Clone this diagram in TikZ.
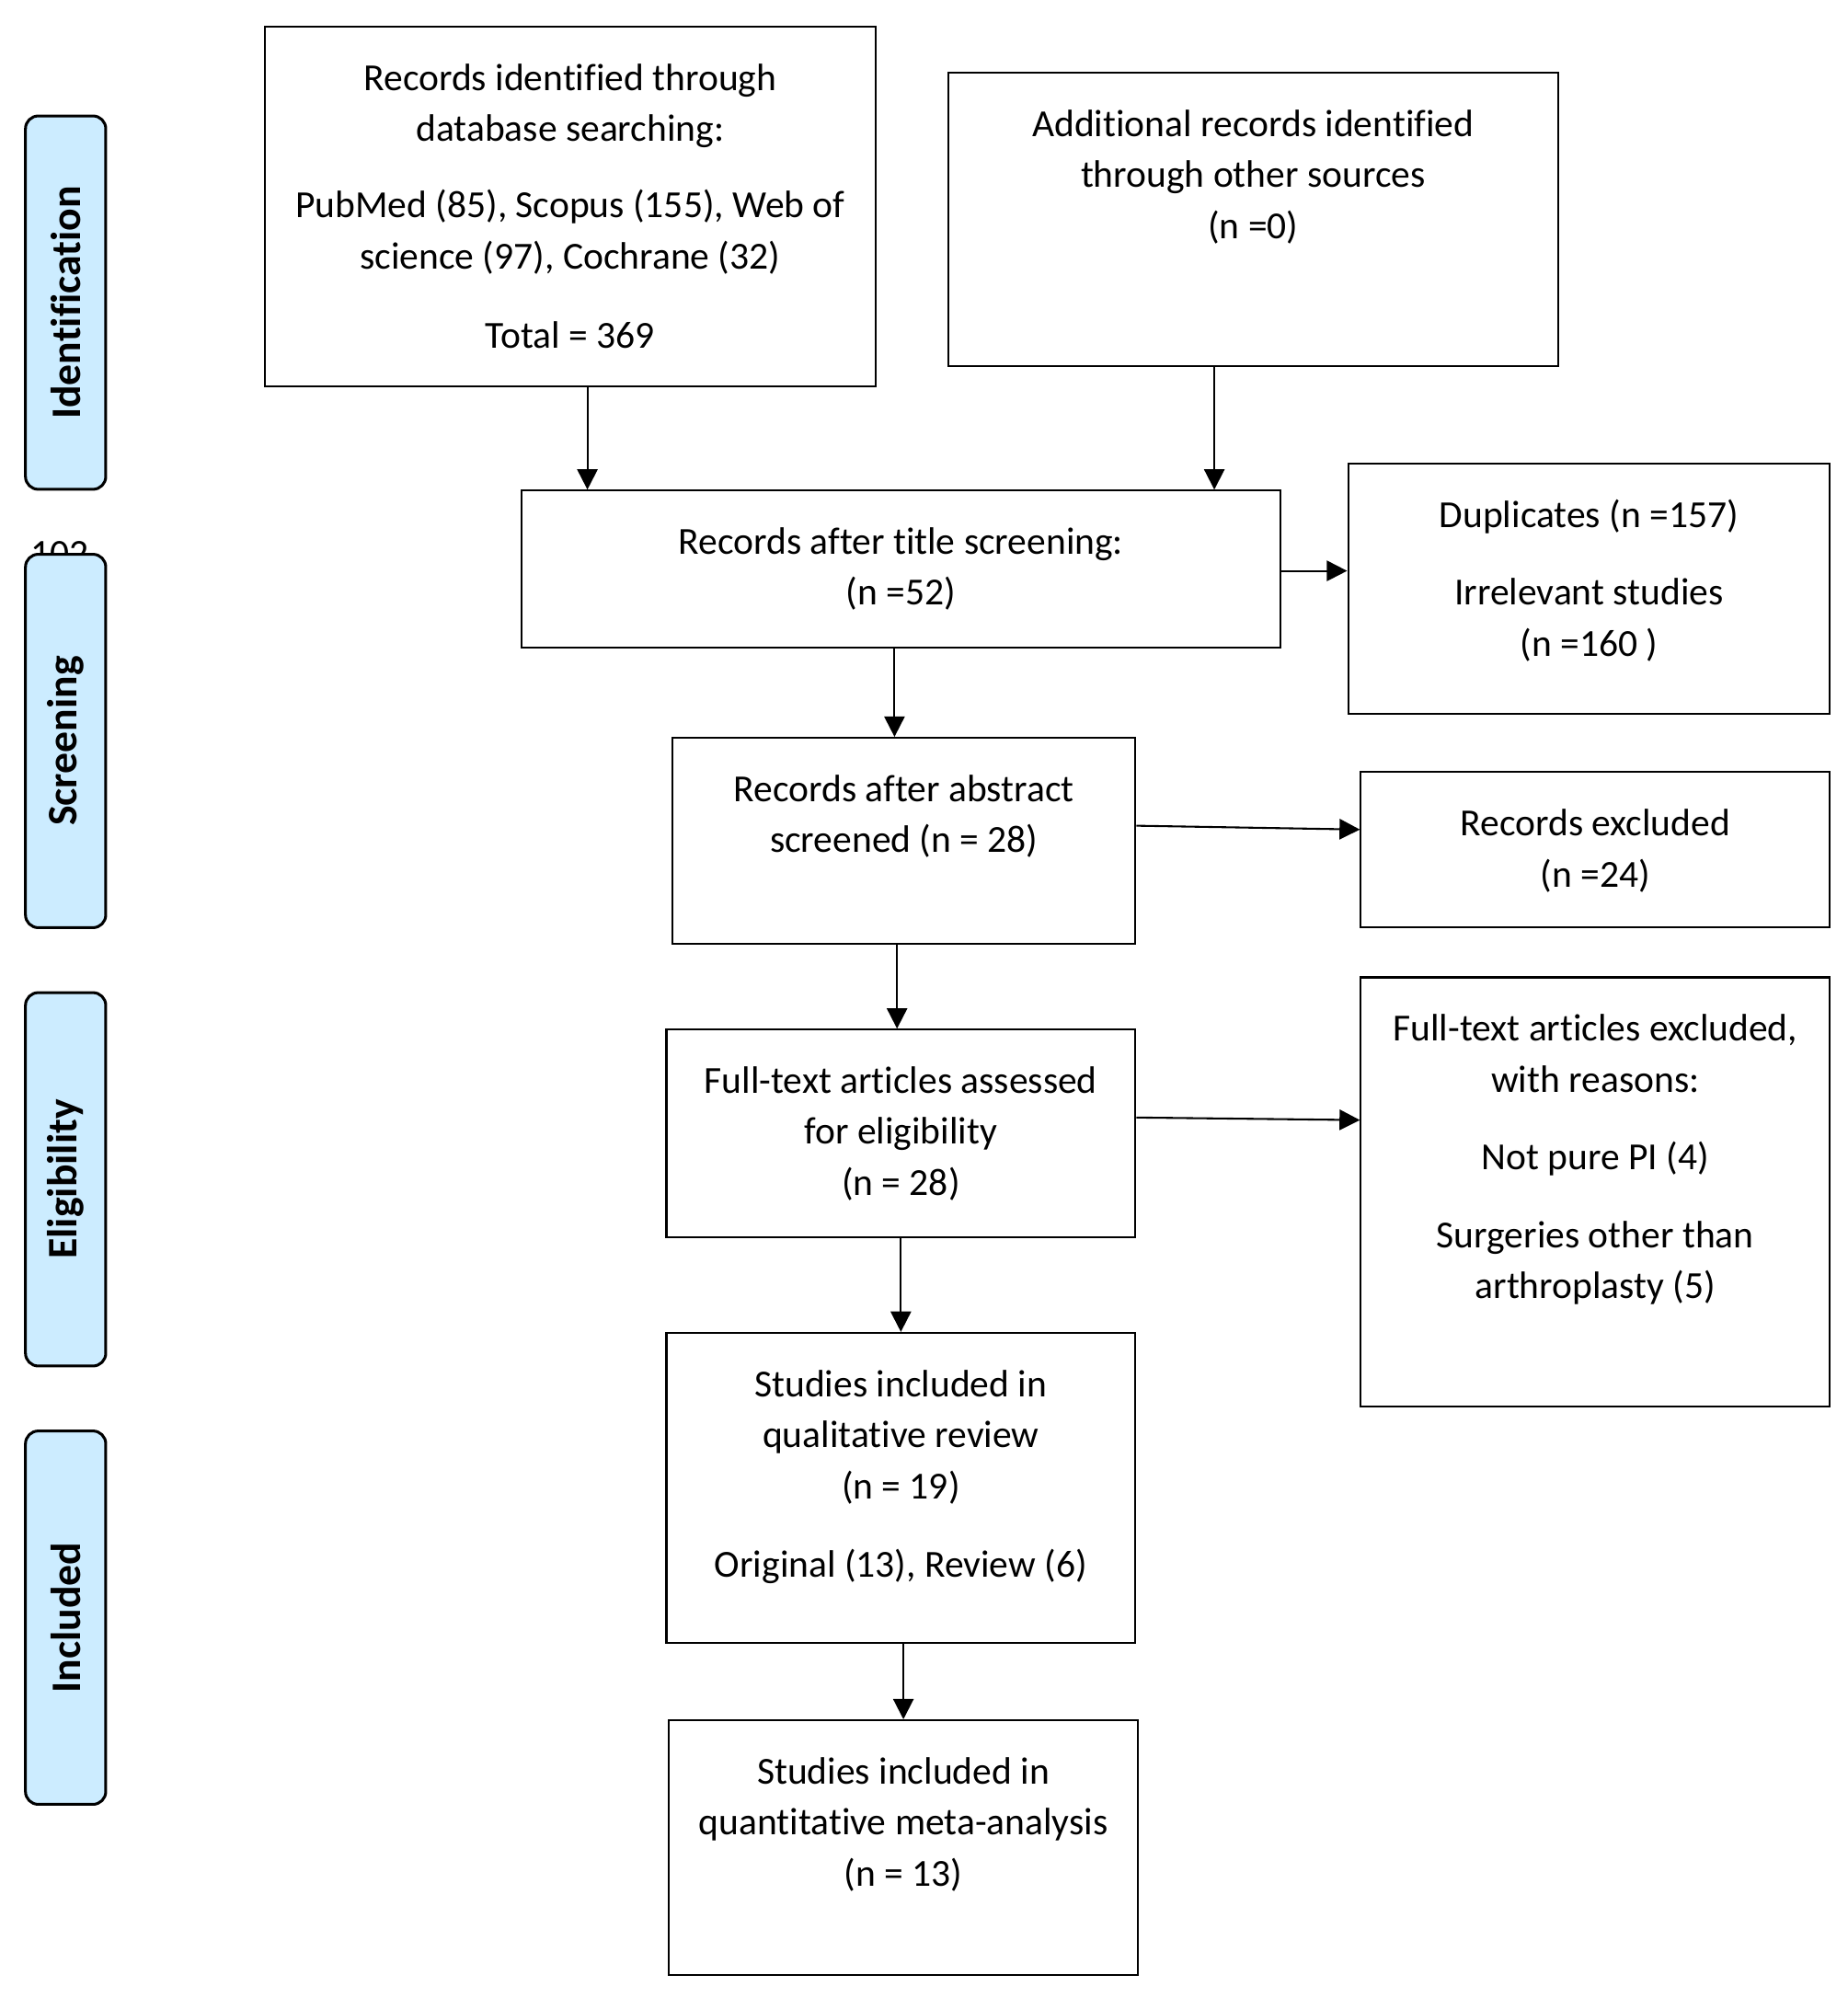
\documentclass[tikz,border=0pt]{standalone}
\usepackage{fontspec}
\setmainfont{Carlito}[Ligatures={NoCommon,NoContextual}]
\usepackage{tikz}
\usetikzlibrary{arrows.meta, positioning}
\definecolor{stageblue}{RGB}{204,236,255}
\newcommand{\boxtext}[3]{\parbox[c][#2][t]{#1}{\centering\vspace*{22pt}\strut#3}}

\begin{document}
\begin{tikzpicture}[x=1pt, y=-1pt,
    font=\fontsize{30pt}{40pt}\selectfont,
    block/.style={rectangle, draw, line width=1.5pt, inner sep=0pt},
    stage/.style={rectangle, draw, line width=2.2pt, fill=stageblue, rounded corners=10pt, rotate=90, minimum width=293pt, minimum height=63pt, inner sep=0pt, font=\fontsize{33pt}{40pt}\selectfont\bfseries},
    line/.style={draw, line width=1.5pt, -{Triangle[length=16pt, width=16pt]}}]

    \useasboundingbox (0,0) rectangle (1450,1568);

    % Stage labels
    \node [anchor=base] (pagenum) at (47,444) {102};
    \foreach \stagename [count=\i] in {Identification, Screening, Eligibility, Included}
        \node [stage] (stage\i) at (51.5, {237.5+344*(\i-1)}) {\stagename};

    % Nodes
    \node [block] (db) at (447.5,162) {\boxtext{479pt}{282pt}{Records identified through\\database searching:\\[20pt]PubMed (85), Scopus (155), Web of\\science (97), Cochrane (32)\\[22pt]Total = 369}};
    \node [block, right=55.5pt of db, yshift=-10pt] (other) {\boxtext{479pt}{230pt}{Additional records identified\\through other sources\\(n =0)}};
    \node [block] (title) at (707,446.5) {\boxtext{596pt}{123pt}{Records after title screening:\\(n =52)}};
    \node [block, below=69.5pt of title, xshift=2.5pt] (abstract) {\boxtext{363pt}{162pt}{Records after abstract\\screened (n = 28)}};
    \node [block, below=65.5pt of abstract, xshift=-2.5pt] (fulltext) {\boxtext{368pt}{163pt}{Full-text articles assessed\\for eligibility\\(n = 28)}};
    \node [block, below=73.5pt of fulltext] (qual) {\boxtext{368pt}{243pt}{Studies included in\\qualitative review\\(n = 19)\\[22pt]Original (13), Review (6)}};
    \node [block, below=59.5pt of qual, xshift=2pt] (quant) {\boxtext{368pt}{200pt}{Studies included in\\quantitative meta-analysis\\(n = 13)}};

    % Exclusions
    \node [block, right=51.5pt of title, yshift=-15.5pt] (dup) {\boxtext{378pt}{196pt}{Duplicates (n =157)\\[21pt]Irrelevant studies\\(n =160 )}};
    \node [block, right=175.5pt of abstract, yshift=-7pt] (excl) {\boxtext{368pt}{122pt}{Records excluded\\(n =24)}};
    \node [block, right=175.5pt of fulltext, yshift=-46pt] (ftexcl) {\boxtext{368pt}{337pt}{Full-text articles excluded,\\with reasons:\\[21pt]Not pure PI (4)\\[21pt]Surgeries other than\\arthroplasty (5)}};

    % Paths
    \path [line] ([xshift=13.5pt]db.south) -- ([xshift=13.5pt]db.south |- title.north);
    \path [line] ([xshift=-30.5pt]other.south) -- ([xshift=-30.5pt]other.south |- title.north);
    \path [line] ([yshift=-1.5pt]title.east) -- ([yshift=-1.5pt]title.east -| dup.west);
    \path [line] ([xshift=-5pt]title.south) -- ([xshift=-5pt]title.south |- abstract.north);
    \path [line] ([yshift=12pt]abstract.east) -- ([yshift=16pt]excl.west);
    \path [line] ([xshift=-5.5pt]abstract.south) -- ([xshift=-5.5pt]abstract.south |- fulltext.north);
    \path [line] ([yshift=12.5pt]fulltext.east) -- ([yshift=56.5pt]ftexcl.west);
    \path [line] (fulltext.south) -- (qual.north);
    \path [line] ([xshift=2pt]qual.south) -- ([xshift=2pt]qual.south |- quant.north);

\end{tikzpicture}
\end{document}
